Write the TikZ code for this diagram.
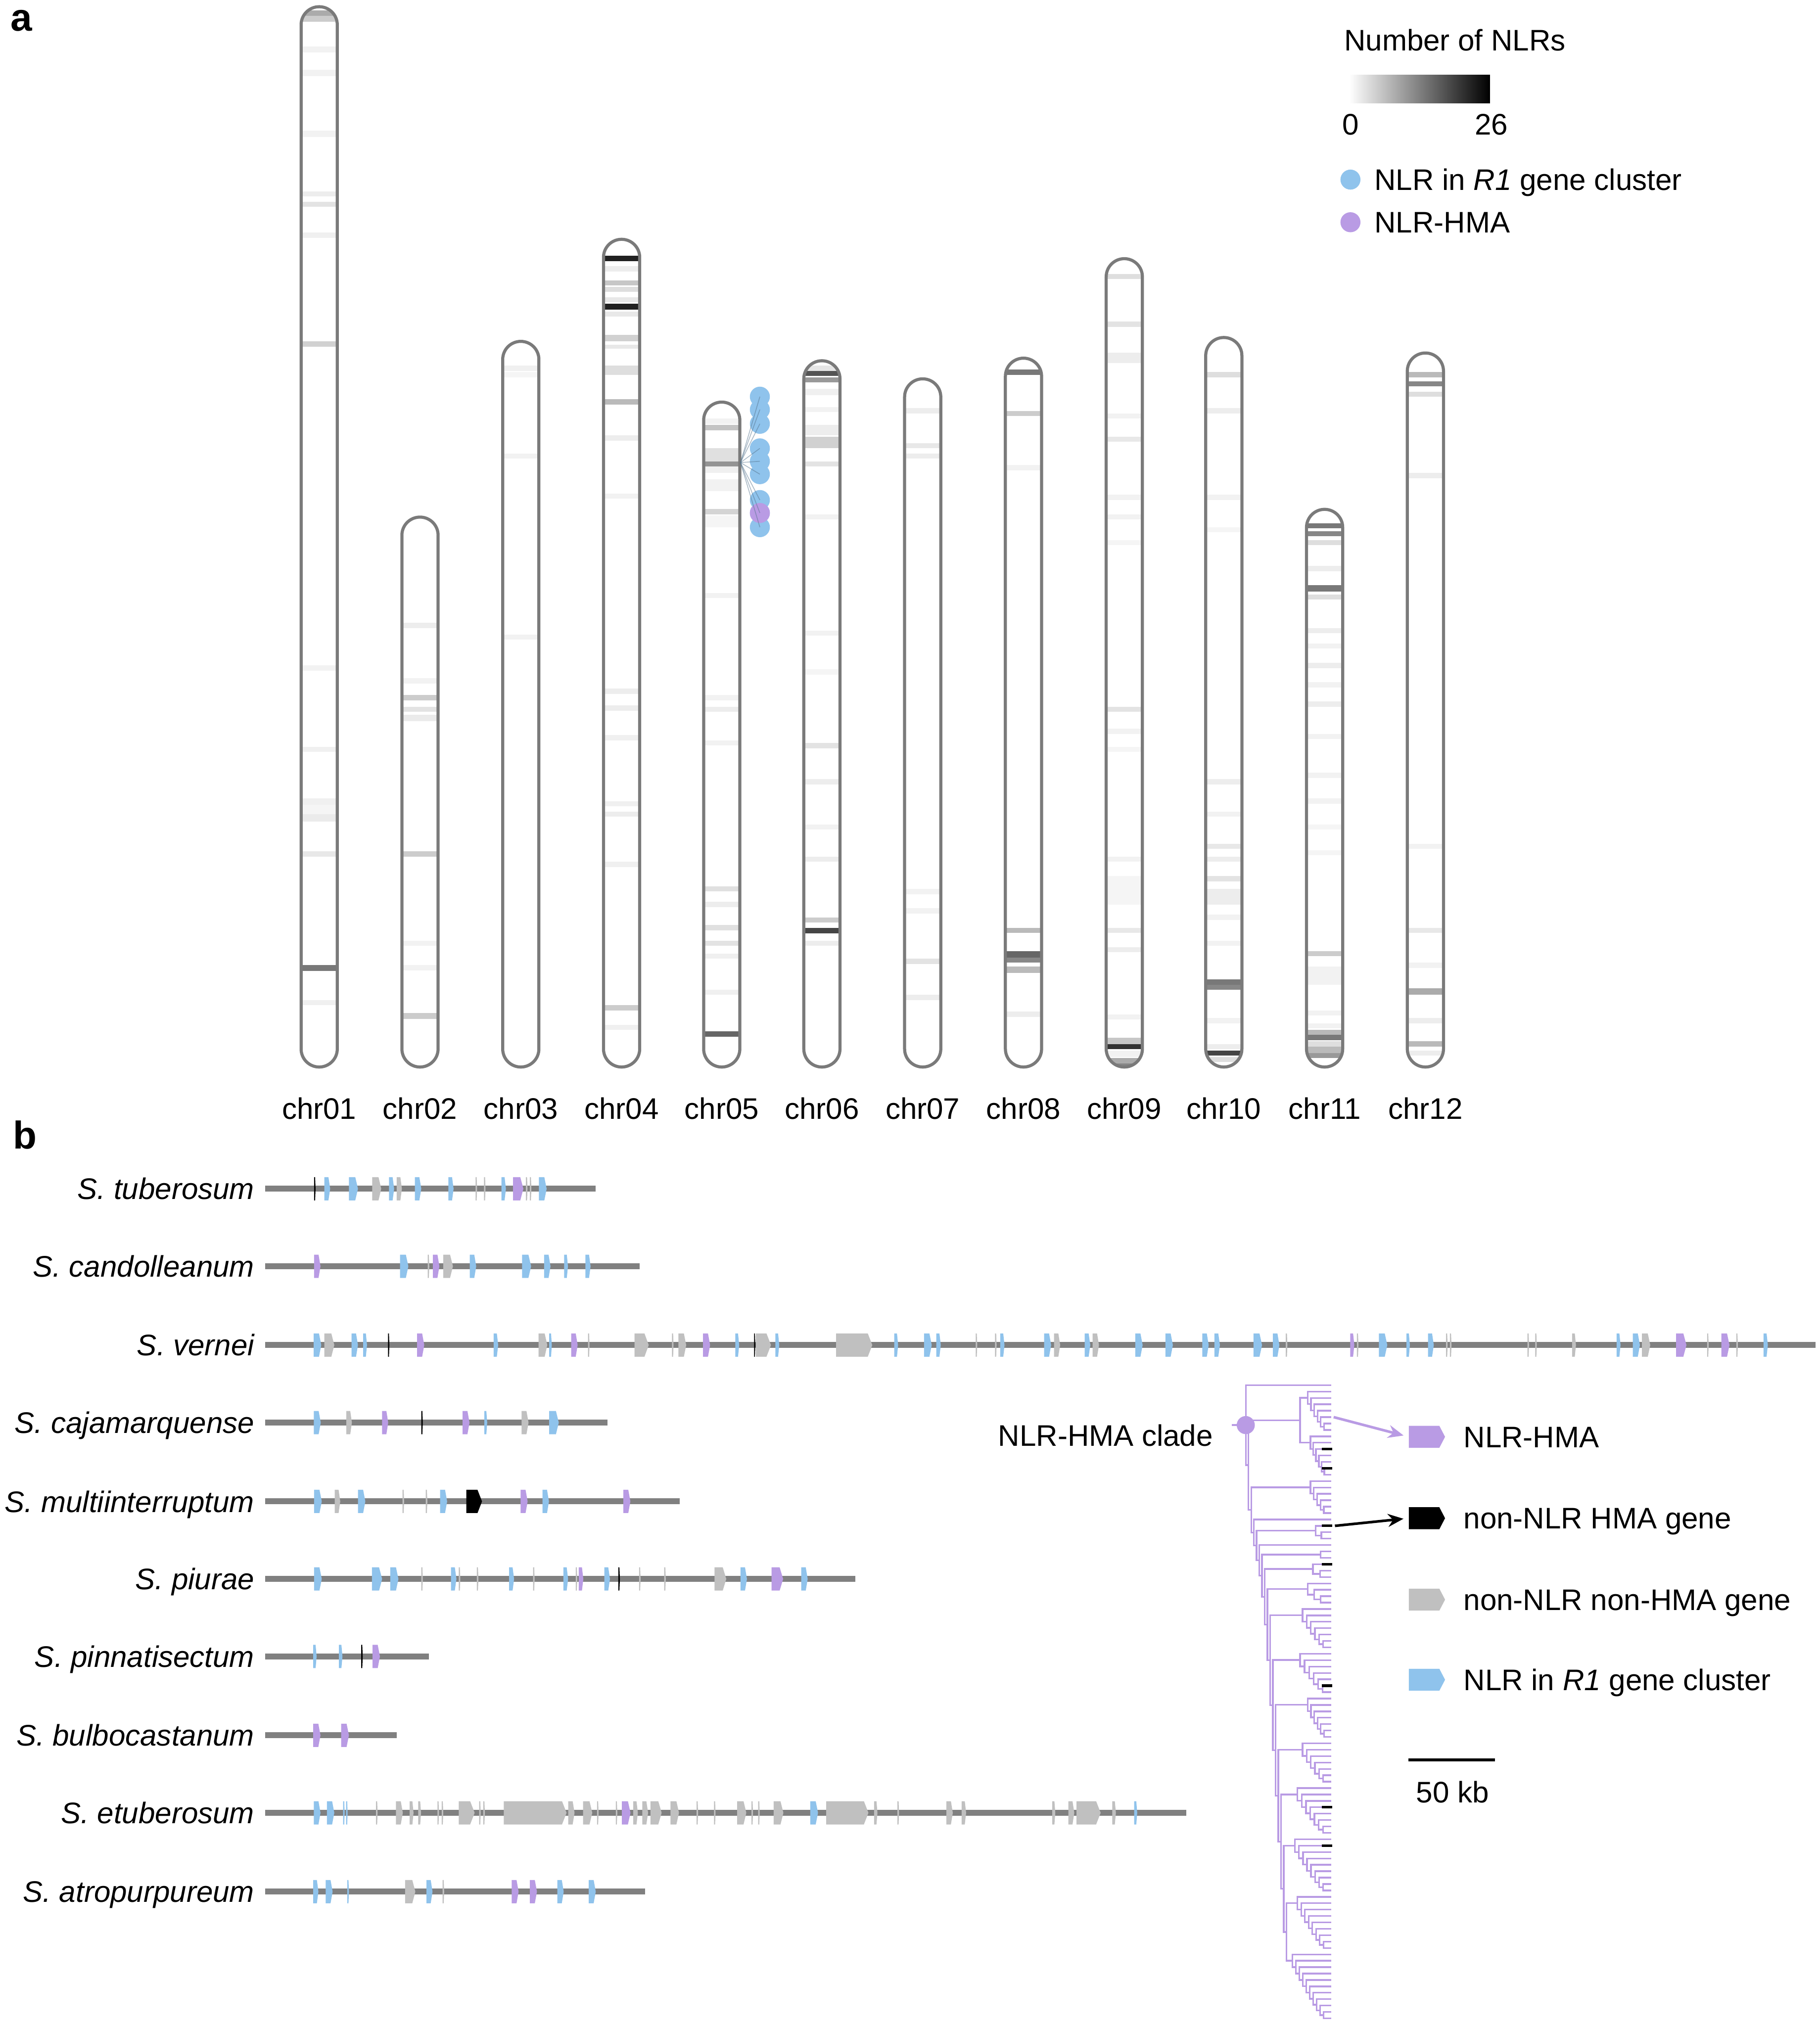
\documentclass[tikz,border=0pt]{standalone}
\usepackage{fontspec}
\setmainfont{Liberation Sans}
\usetikzlibrary{shapes.symbols, arrows.meta, positioning, calc}

\definecolor{nlr}{HTML}{8FC3EC}
\definecolor{hma}{HTML}{B99BE4}
\definecolor{oth}{HTML}{C0C0C0}
\definecolor{hmk}{HTML}{000000}
\definecolor{chrline}{HTML}{7A7A7A}
\definecolor{trk}{HTML}{808080}

\newcommand{\lblsize}{\fontsize{23}{27}\selectfont}

\tikzstyle{panel} = [font=\fontsize{30}{34}\selectfont\bfseries, inner sep=0pt, anchor=base west]
\tikzstyle{lbl} = [font=\lblsize, inner sep=0pt, text height=16.5pt, text depth=0pt]
\tikzstyle{species} = [lbl, font=\lblsize\itshape, anchor=east]
\tikzstyle{legtext} = [lbl, anchor=west]
\tikzstyle{legdot} = [circle, inner sep=0pt, minimum size=15.5pt]
\tikzstyle{legicon} = [signal, signal to=east, signal pointer angle=125, inner sep=0pt, minimum width=28pt, minimum height=17pt]
\tikzstyle{chromline} = [draw=chrline, line width=2.4pt]
\tikzstyle{trackline} = [draw=trk, line width=4.6pt]
\tikzstyle{treeline} = [draw=hma, line width=1.3pt]
\tikzstyle{hubline} = [draw=nlr!60!black, line width=0.6pt, opacity=0.5]
\tikzstyle{legarrow} = [line width=2pt, -{Stealth[length=12pt,width=10pt]}, shorten >=4pt]

% chromosome: name, centre x, top y, bands (y1/y2/grey)
\newcommand{\chrom}[4]{%
  \begin{scope}
    \clip[rounded corners=14pt] ({#2-14},{#3+1.2}) rectangle ({#2+14},825.8);
    \fill[white] ({#2-15},#3) rectangle ({#2+15},827);
    \foreach \ya/\yb/\g in {#4} \fill[fill=black!\g] ({#2-15},\ya) rectangle ({#2+15},\yb);
  \end{scope}
  \draw[chromline, rounded corners=14pt] ({#2-14},{#3+1.2}) rectangle ({#2+14},825.8);
  \node[lbl] (#1) at (#2,858) {#1};
}

% gene arrow: x1, x2, y, colour
\newcommand{\gene}[4]{%
  \pgfmathsetmacro\gtip{min(0.3*(#2-#1),3.5)}
  \fill[fill=#4] (#1,{#3-9}) -- ({#2-\gtip},{#3-9}) -- (#2,#3) -- ({#2-\gtip},{#3+9}) -- (#1,{#3+9}) -- cycle;
}

% locus: name, label, y, end x, genes (x1/x2/colour)
\newcommand{\track}[5]{%
  \node[species] (#1) at (197,#3) {#2};
  \draw[trackline] (205,#3) -- (#4,#3);
  \foreach \xa/\xb/\gc in {#5} {\gene{\xa}{\xb}{#3}{\gc}}
}

% ladder subclade: root name, first leaf, leaves, root x
\newcommand{\comb}[4]{%
  \ifnum#3=1
    \coordinate (#1) at (1030,{1072+4.95*#2});
  \else
    \coordinate (#1) at (#4,{1072+4.95*(#2+1-0.5^(#3-1))});
    \pgfmathtruncatemacro\cmb{#3-2}
    \pgfmathsetmacro\cstep{(1027-#4)/(#3-1)}
    \foreach \j in {0,...,\cmb}{
      \pgfmathsetmacro\xa{#4+\j*\cstep}
      \pgfmathsetmacro\ya{1072+4.95*(#2+\j)}
      \ifnum\j<\cmb
        \pgfmathsetmacro\yb{1072+4.95*(#2+\j+2-0.5^(\cmb-\j))}
        \pgfmathsetmacro\xb{#4+(\j+1)*\cstep}
      \else
        \pgfmathsetmacro\yb{1072+4.95*(#2+\j+1)}
        \def\xb{1030}
      \fi
      \draw[treeline] (1030,\ya) -- (\xa,\ya) -- (\xa,\yb) -- (\xb,\yb);
    }
  \fi
}

\begin{document}
\begin{tikzpicture}[x=1pt, y=-1pt]

\useasboundingbox (0,0) rectangle (1408,1568);
\fill[white] (0,0) rectangle (1408,1568);

% Panel letters
\node[panel] (pa) at (8,24) {a};
\node[panel] (pb) at (10,889) {b};

% ===== a: NLR density along the chromosomes =====
\chrom{chr01}{247}{4}{8/12.4/33, 12.4/16.7/20, 36/40.5/5, 54/59/5, 101/106/5, 148/152/7, 156/160/11, 180/184/6, 264/268.5/18, 515/519/5, 578/582/6, 618/623/6, 623/630/4, 630/636/8, 659/663/9, 747/751.5/53, 774/778/6}
\chrom{chr02}{325}{399}{482/486/7, 525/529/5, 538/542/20, 547/551/11, 553/558/8, 659/663/20, 728/732/5, 747/751/5, 784/788.5/20}
\chrom{chr03}{403}{263}{283/287/6, 288/292/4, 351/355/5, 491/495/5}
\chrom{chr04}{481}{184}{198/202/87, 206/210/7, 217/221/22, 222/226/13, 230/234/9, 235/239.5/87, 241/245/9, 259/264/18, 267/270/9, 283/290/13, 309/313/27, 337/341/7, 382/386/5, 533/537/7, 546/550/7, 569/573/6, 620/624/6, 628/632/7, 667/671/6, 778/782/20, 793/797/6}
\chrom{chr05}{558.5}{310}{324/328/5, 329/333/23, 347/357/12, 357/361/42, 361/366/6, 371/380/5, 394/398/17, 399/408/4, 459/463/5, 538/542/5, 547/551/7, 573/577/5, 686/690/12, 698/702/7, 716/720/12, 728/732/11, 738/742/6, 766/770/6, 798/802.5/60}
\chrom{chr06}{636}{278}{283/287/10, 287/291/67, 292/296/40, 301/306/6, 315/319/5, 329/337/7, 338/347/18, 357/361/11, 398/402/5, 488/492/5, 518/522/4, 575/579/11, 603/607/7, 638/642/5, 663/667/7, 710/714/20, 718/722.5/73, 728/732/7}
\chrom{chr07}{714}{292}{316/320/7, 343/347/9, 351/355/7, 688/692/5, 703/707/5, 742/746/11, 770/774/7}
\chrom{chr08}{792}{276}{286/290/53, 318/322/20, 360/364/5, 718/722/27, 736/741/60, 741/745/47, 748/753/27, 783/787/7}
\chrom{chr09}{870}{199}{212/216/13, 249/253/11, 273/281/7, 320/324/5, 338/342/9, 383/387/5, 398/402/5, 418/422/4, 547/551/11, 564/568/5, 578/582/4, 663/667/5, 678/700/4, 718/722/9, 733/737/7, 785/789/5, 803/808/22, 808/812/80, 813/818/5, 819/823/33, 823/829/47}
\chrom{chr10}{947}{260}{288/292/13, 316/320/7, 383/387/5, 408/412/4, 603/607/7, 628/632/5, 653/657/9, 663/667/7, 678/682/11, 688/700/7, 708/712/5, 728/732/5, 758/762/53, 762/766/47, 788/792/5, 808/812/7, 813/817/73, 818/822/13}
\chrom{chr11}{1025}{393}{405/409/53, 411/415/47, 418/422/13, 438/442/7, 453/458/53, 460/464/13, 486/490/7, 498/502/5, 513/517/7, 528/532/5, 543/547/7, 568/572/5, 598/602/5, 618/622/5, 638/642/4, 658/662/4, 736/740/20, 748/762/5, 782/786/5, 792/796/5, 797/801/28, 801/805/53, 806/810/13, 810/815/27, 815/819/40}
\chrom{chr12}{1103}{272}{288/292/27, 295/299/47, 303/307/13, 366/370/7, 653/657/5, 718/722/9, 745/749/5, 765/770/33, 788/792/7, 806/810/27, 813/817/7}

% R1 cluster on chr05
\coordinate (r1hub) at (573,358);
\foreach \y [count=\i] in {307,317,328,347,357,367,387,397,408}
  \node[legdot, fill=nlr] (r1gene\i) at (588,\y) {};
\node[legdot, fill=hma] (r1gene8) at (588,397) {};
\foreach \i in {1,...,9} \draw[hubline] (r1hub) -- (r1gene\i.center);

% Density legend
\node[legtext] (legtitle) at (1040,31) {Number of NLRs};
\shade[left color=white, right color=black] (1044,58) rectangle (1153,80);
\node[lbl] (scalemin) at (1045,96) {0};
\node[lbl] (scalemax) at (1154,96) {26};
\node[legdot, fill=nlr] (dotnlr) at (1045,139) {};
\node[legtext, right=10.5pt of dotnlr] (txtnlr) {NLR in \textit{R1} gene cluster};
\node[legdot, fill=hma] (dothma) at (1045,172) {};
\node[legtext, right=10.5pt of dothma] (txthma) {NLR-HMA};

% ===== b: R1 loci =====
\track{tub}{S. tuberosum}{920}{461}{243/244.2/hmk, 251/255.5/nlr, 270/277/nlr, 288/295/oth, 301/305/nlr, 307/311/oth, 321/326/nlr, 347/351/nlr, 368/369.2/oth, 374.5/375.7/oth, 388/391.5/nlr, 397/405/hma, 407/408.2/oth, 410/411.2/oth, 417/423/nlr}
\track{can}{S. candolleanum}{980}{495}{243/248/hma, 309.5/316/nlr, 331/332.2/oth, 335/340/hma, 343/350.5/oth, 363.5/368.5/nlr, 404/411/nlr, 421/426/nlr, 436.5/439.5/nlr, 453/457/nlr}
\track{ver}{S. vernei}{1041}{1405}{242.7/248.6/nlr, 251/258.7/oth, 272/277/nlr, 281/284/nlr, 300.3/301.3/hmk, 322.8/328.3/hma, 382/385.5/nlr, 416.7/423.5/oth, 425/427/nlr, 442/447/hma, 455/456.2/oth, 491/502/oth, 520/521.2/oth, 525/531/oth, 544/549.5/hma, 569/572/nlr, 583.5/584.5/hmk, 585/596.6/oth, 600/603/nlr, 647/675/oth, 692/695/nlr, 715/721/nlr, 724.5/728/nlr, 755/756.2/oth, 770/771.2/oth, 774/777.3/nlr, 808/813.4/nlr, 815.6/820.4/oth, 839.4/843.7/nlr, 845.5/850.4/oth, 878.5/884.2/nlr, 901.8/907.6/nlr, 930.4/935.3/nlr, 939.7/944/nlr, 970/976.6/nlr, 985/990/nlr, 995/996.2/oth, 1044.8/1048/hma, 1050/1051.2/oth, 1067/1073.5/nlr, 1088.4/1091/nlr, 1105/1109.5/nlr, 1119/1120.2/oth, 1122/1123.2/oth, 1182/1183.2/oth, 1188/1189.2/oth, 1216.5/1219.5/oth, 1251/1254/nlr, 1263.5/1269/nlr, 1270.6/1277/oth, 1297/1305/hma, 1321/1322.2/oth, 1332/1338.3/hma, 1343.6/1344.8/oth, 1364.7/1368/nlr}
\track{caj}{S. cajamarquense}{1101}{470}{242.8/248.2/nlr, 268/272.3/oth, 295.7/300.4/hma, 326/327.2/hmk, 358/363.3/hma, 374.8/377/nlr, 403.6/409/oth, 425/432.4/nlr}
\track{mul}{S. multiinterruptum}{1162}{526}{243/249/nlr, 259/263.3/oth, 277/282.7/nlr, 311.5/312.7/oth, 329.5/330.7/oth, 340.6/346/nlr, 360.8/373/hmk, 402.9/408.3/hma, 419.8/424.8/nlr, 482.4/487.8/hma}
\track{piu}{S. piurae}{1222}{662}{243/249/nlr, 287.8/295.7/nlr, 302/308.3/nlr, 326/327.2/oth, 349/353.2/nlr, 355/356.2/oth, 369/370.2/oth, 394/397.8/nlr, 412.5/413.7/oth, 436/439.6/nlr, 445.5/446.7/oth, 447.8/451.4/hma, 467.6/472/nlr, 478.5/479.7/hmk, 494.5/495.7/oth, 514/515.2/oth, 552.9/562/oth, 573/578/nlr, 597/606/hma, 620/625/nlr}
\track{pin}{S. pinnatisectum}{1282}{332}{242.4/245/nlr, 262.3/265/nlr, 279.5/280.7/hmk, 288.3/294/hma}
\track{bul}{S. bulbocastanum}{1343}{307}{242.4/248/hma, 264/270/hma}
\track{etu}{S. etuberosum}{1403}{918}{242.8/248/nlr, 253/258.7/nlr, 265.5/266.7/nlr, 267.8/269/nlr, 291/292.2/oth, 306.4/311.7/oth, 317/320/oth, 323.6/325.8/oth, 338.5/339.7/oth, 341.8/343/oth, 355/367.3/oth, 370.8/372/oth, 374/375.2/oth, 389.8/438.4/oth, 439.7/444.6/oth, 451.2/458.3/oth, 462/463.2/oth, 476.5/477.7/oth, 481.2/487.9/hma, 490/493.6/oth, 497/501.5/oth, 503.3/512/oth, 518.8/525.4/oth, 539/540.2/oth, 552.5/553.7/oth, 570.4/577.5/oth, 581.5/582.7/oth, 586.7/587.9/oth, 598.7/606.2/oth, 627/633/nlr, 639.3/672/oth, 676.4/679/oth, 694.5/695.7/oth, 732.4/737.3/oth, 744.1/747.6/oth, 814.3/816.6/oth, 826.7/831.3/oth, 833/851.7/oth, 860.7/863.5/oth, 877.6/880/nlr}
\track{atr}{S. atropurpureum}{1464}{499}{242.4/246.4/nlr, 252/257.4/nlr, 268.8/270/nlr, 313.5/321.4/oth, 330/334.7/nlr, 342.5/343.7/oth, 396/401.3/hma, 410/415.5/hma, 431.3/436.2/nlr, 455.6/461/nlr}

% NLR-HMA clade tree
\comb{s0}{0}{1}{1030}
\comb{a1}{1}{7}{1012}
\comb{a2}{8}{7}{1014}
\path ($(a1)!0.5!(a2)$) coordinate (am);
\coordinate (ax) at (1006,0);
\coordinate (s1) at (ax |- am);
\draw[treeline] (a1) -| (s1) |- (a2);
\comb{s2}{15}{6}{1014}
\comb{s3}{21}{1}{1030}
\comb{s4}{22}{3}{1018}
\comb{s5}{25}{1}{1030}
\comb{s6}{26}{2}{1022}
\comb{s7}{28}{3}{1016}
\comb{s8}{31}{4}{1012}
\comb{s9}{35}{7}{1008}
\comb{s10}{42}{7}{1006}
\comb{s11}{49}{7}{1012}
\comb{s12}{56}{7}{1008}
\comb{s13}{63}{8}{1004}
\comb{s14}{71}{9}{1002}
\comb{s15}{80}{9}{1004}
\comb{s16}{89}{11}{1000}
\foreach \k in {0,...,15} \coordinate (bx\k) at ({964+2.1*\k},0);
\path ($(s15)!0.5!(s16)$) coordinate (bm15);
\coordinate (b15) at (bx15 |- bm15);
\draw[treeline] (s15) -| (b15) |- (s16);
\foreach \k in {14,...,0}{
  \pgfmathtruncatemacro\kn{\k+1}
  \path ($(s\k)!0.5!(b\kn)$) coordinate (bm\k);
  \coordinate (b\k) at (bx\k |- bm\k);
  \draw[treeline] (s\k) -| (b\k) |- (b\kn);
}
\draw[treeline] (b0) -- ++(-11,0);
\node[legdot, fill=hma, minimum size=14pt] (cladedot) at (b0) {};
\node[lbl, left=18pt of cladedot, yshift=-8pt] (cladelab) {NLR-HMA clade};

% non-NLR HMA tips
\foreach \l in {10,13,22,28,47,66,72}
  \draw[hmk, line width=2pt] (1023,{1072+4.95*\l}) -- (1031,{1072+4.95*\l});
\coordinate (hmaleaf) at (1032,{1072+4.95*5});
\coordinate (blkleaf) at (1033,{1072+4.95*22});

% Gene legend
\node[legicon, fill=hma] (iconhma) at (1102,1112) {};
\node[legtext, right=14pt of iconhma] (labhma) {NLR-HMA};
\node[legicon, fill=hmk] (iconhmk) at (1102,1175) {};
\node[legtext, right=14pt of iconhmk] (labhmk) {non-NLR HMA gene};
\node[legicon, fill=oth] (iconoth) at (1102,1238) {};
\node[legtext, right=14pt of iconoth] (laboth) {non-NLR non-HMA gene};
\node[legicon, fill=nlr] (iconnlr) at (1102,1300) {};
\node[legtext, right=14pt of iconnlr] (labnlr) {NLR in \textit{R1} gene cluster};

\draw[legarrow, hma] (hmaleaf) -- (iconhma.west);
\draw[legarrow, black] (blkleaf) -- (iconhmk.west);

% Scale bar
\coordinate (sbleft) at (1090,1362);
\coordinate (sbright) at (1157,1362);
\draw[line width=2pt] (sbleft) -- (sbright);
\node[lbl] (sblab) at (1124,1387) {50 kb};

\end{tikzpicture}
\end{document}
